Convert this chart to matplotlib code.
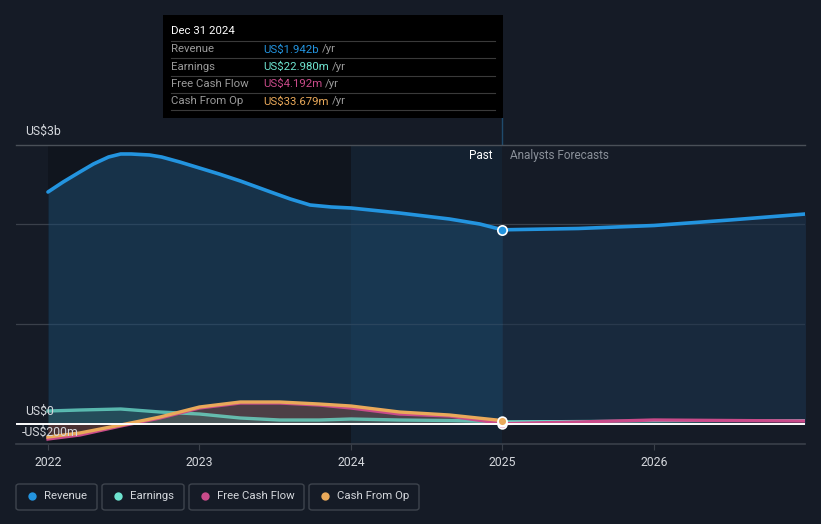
import numpy as np
import matplotlib.pyplot as plt
from matplotlib.patches import FancyBboxPatch, Rectangle
from matplotlib.lines import Line2D

# ==========================================================
# Data (US$ billions)
# ==========================================================
rev_past_t = [2022.0, 2022.1, 2022.21, 2022.3, 2022.4, 2022.48, 2022.55, 2022.67,
              2022.75, 2022.87, 2023.0, 2023.13, 2023.27, 2023.47, 2023.6, 2023.73,
              2023.87, 2024.0, 2024.32, 2024.65, 2024.85, 2025.0]
rev_past = [2.32, 2.42, 2.52, 2.60, 2.67, 2.70, 2.70, 2.69,
            2.67, 2.62, 2.56, 2.50, 2.43, 2.32, 2.25, 2.19,
            2.17, 2.16, 2.11, 2.05, 2.00, 1.942]
rev_fc_t = [2025.0, 2025.5, 2026.0, 2026.5, 2027.0]
rev_fc = [1.942, 1.955, 1.985, 2.04, 2.10]

flow_t = [2022.0, 2022.21, 2022.48, 2022.74, 2023.0, 2023.27, 2023.53,
          2023.79, 2024.0, 2024.32, 2024.65, 2025.0]
earn_past = [0.13, 0.14, 0.15, 0.12, 0.10, 0.06, 0.04, 0.04, 0.05, 0.04, 0.035, 0.023]
cfo_past = [-0.13, -0.09, -0.01, 0.07, 0.17, 0.22, 0.22, 0.20, 0.18, 0.12, 0.09, 0.034]
fcf_past = [-0.15, -0.11, -0.02, 0.06, 0.16, 0.21, 0.21, 0.19, 0.16, 0.10, 0.08, 0.004]

fc_t = [2025.0, 2025.5, 2026.0, 2026.5, 2027.0]
earn_fc = [0.023, 0.027, 0.03, 0.033, 0.035]
fcf_fc = [0.004, 0.02, 0.04, 0.035, 0.03]

year_ticks = [2022, 2023, 2024, 2025, 2026]

tooltip_rows = [("Revenue", "US$1.942b"), ("Earnings", "US$22.980m"),
                ("Free Cash Flow", "US$4.192m"), ("Cash From Op", "US$33.679m")]

# ==========================================================
# Style
# ==========================================================
BG = "#151b26"
C_REV = "#2394df"
C_EARN = "#6ee3cf"
C_FCF = "#c94b8a"
C_CFO = "#e9a95a"
C_TXT = "#d4d7dc"
C_GRID = "#3a404a"

plt.rcParams.update({"font.family": "Roboto", "font.size": 8.5})

W, H = 821, 524
fig = plt.figure(figsize=(W / 100, H / 100), dpi=100, facecolor=BG)


def fx(px):
    return px / W


def fy(py):
    return 1 - py / H


ax = fig.add_axes([fx(16), fy(444), fx(805 - 16), (444 - 145) / H])
ax.set_facecolor(BG)
ax.set_xlim(2021.789, 2026.997)
ax.set_ylim(-0.2, 2.79)

# background bands
ax.axvspan(2022.0, 2024.0, color="#0e131b", alpha=0.7, lw=0, zorder=0)
ax.axvspan(2024.0, 2025.0, color="#12304a", alpha=0.3, lw=0, zorder=0)

# grid lines
for g in [1.0, 2.0]:
    ax.axhline(g, color=C_GRID, lw=0.9, zorder=1)

# revenue
ax.fill_between(rev_past_t, rev_past, 0, color="#1d4a6e", alpha=0.55, lw=0, zorder=2)
ax.fill_between(rev_fc_t, rev_fc, 0, color="#1b3550", alpha=0.55, lw=0, zorder=2)
ax.plot(rev_past_t, rev_past, color=C_REV, lw=2.6, solid_capstyle="round", zorder=5)
ax.plot(rev_fc_t, rev_fc, color=C_REV, lw=2.6, solid_capstyle="round", zorder=5)

# flows
ax.fill_between(flow_t, cfo_past, 0, color="#7a4a45", alpha=0.55, lw=0, zorder=3)
ax.fill_between(flow_t, earn_past, 0, color="#3f7f7a", alpha=0.35, lw=0, zorder=3)
ax.plot(flow_t, earn_past, color=C_EARN, lw=2.4, alpha=0.75, zorder=6)
ax.plot(flow_t, fcf_past, color=C_FCF, lw=2.4, zorder=6)
ax.plot(flow_t, cfo_past, color=C_CFO, lw=2.4, zorder=7)
ax.plot(fc_t, earn_fc, color=C_EARN, lw=2.0, zorder=6)
ax.plot(fc_t, fcf_fc, color=C_FCF, lw=2.4, zorder=7)

# zero line
ax.axhline(0, color="white", lw=1.4, zorder=8)

# markers at the tooltip date
ax.scatter([2025.0], [rev_past[-1]], s=45, color=C_REV, edgecolor="white", lw=1.2, zorder=10)
ax.scatter([2025.0], [fcf_past[-1]], s=40, color=C_FCF, edgecolor="white", lw=1.2, zorder=10)
ax.scatter([2025.0], [earn_past[-1]], s=40, color=C_EARN, edgecolor="white", lw=1.2, zorder=10)
ax.scatter([2025.0], [cfo_past[-1]], s=40, color=C_CFO, edgecolor="white", lw=1.2, zorder=11)

for s in ["top", "right", "left"]:
    ax.spines[s].set_visible(False)
ax.spines["bottom"].set_color(C_GRID)
ax.spines["bottom"].set_linewidth(1.2)
ax.set_yticks([])
ax.set_xticks(year_ticks)
ax.set_xticklabels([str(y) for y in year_ticks], color=C_TXT, fontsize=8.8)
ax.tick_params(axis="x", length=4, color=C_GRID, pad=5)

# top border of plot
fig.add_artist(Line2D([fx(16), fx(805)], [fy(145), fy(145)], color="#4a5058", lw=1.0))

# cursor line at 2025
fig.add_artist(Line2D([fx(502), fx(502)], [fy(118), fy(444)], color="#1f4a6c", lw=1.0, zorder=0))

# y labels
fig.text(fx(25), fy(131), "US$3b", color=C_TXT, fontsize=8.8, va="center")
fig.text(fx(25), fy(411), "US$0", color=C_TXT, fontsize=8.8, va="center")
fig.text(fx(22), fy(432), "-US$200m", color=C_TXT, fontsize=8.8, va="center")

fig.text(fx(493), fy(156), "Past", color="white", fontsize=8.5, va="center", ha="right")
fig.text(fx(510), fy(156), "Analysts Forecasts", color="#8a9099", fontsize=8.5, va="center")

# ==========================================================
# Tooltip
# ==========================================================
fig.add_artist(Rectangle((fx(163), fy(118)), fx(503 - 163), (118 - 15) / H,
                         facecolor="black", edgecolor="none", zorder=20))
fig.text(fx(171), fy(31), "Dec 31 2024", color="white", fontsize=8.2, va="center", zorder=21)
row_colors = [C_REV, C_EARN, C_FCF, C_CFO]
for i, (name, val) in enumerate(tooltip_rows):
    yl = 41 + i * 17.3
    fig.add_artist(Line2D([fx(171), fx(495)], [fy(yl), fy(yl)], color="#3a3a3a", lw=0.8, zorder=21))
    yc = yl + 8.5
    fig.text(fx(171), fy(yc), name, color="#9a9a9a", fontsize=8.2, va="center", zorder=21)
    t = fig.text(fx(263), fy(yc), val, color=row_colors[i], fontsize=8.2, va="center", zorder=21)
    fig.canvas.draw()
    bb = t.get_window_extent()
    fig.text(bb.x1 / W + fx(3), fy(yc), "/yr", color="#9a9a9a", fontsize=8.2, va="center", zorder=21)
fig.add_artist(Line2D([fx(171), fx(495)], [fy(110), fy(110)], color="#3a3a3a", lw=0.8, zorder=21))

# ==========================================================
# Legend
# ==========================================================
legend_items = [("Revenue", C_REV, 16, 97), ("Earnings", C_EARN, 102, 184),
                ("Free Cash Flow", C_FCF, 189, 304), ("Cash From Op", C_CFO, 309, 419)]
for name, col, x0, x1 in legend_items:
    fig.add_artist(FancyBboxPatch((fx(x0), fy(510)), fx(x1 - x0), 26 / H,
                                  boxstyle="round,pad=0,rounding_size=0.004",
                                  facecolor=BG, edgecolor="#3e444d", lw=1.0))
    fig.add_artist(Line2D([fx(x0 + 16)], [fy(496)], marker="o", markersize=6,
                          color=col, markeredgewidth=0))
    fig.text(fx(x0 + 28), fy(496), name, color=C_TXT, fontsize=8.2, va="center")

plt.savefig("out.png", dpi=100, facecolor=BG)
